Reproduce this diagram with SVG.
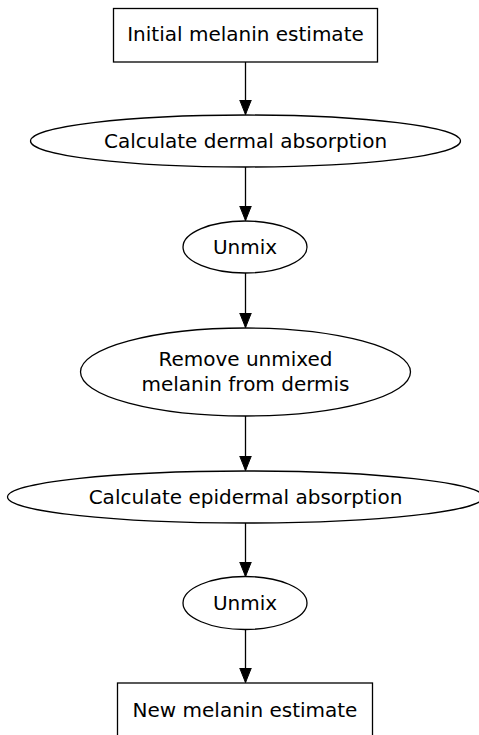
<svg xmlns="http://www.w3.org/2000/svg" width="479" height="735" viewBox="0 0 479 735">
<defs>
<style>
.n{fill:#fff;stroke:#000;stroke-width:1.3}
.t{font-family:"DejaVu Sans",sans-serif;font-size:20px;text-anchor:middle;fill:#000}
.e{stroke:#000;stroke-width:1.3;fill:none}
</style>
<marker id="ah" markerUnits="userSpaceOnUse" markerWidth="16" markerHeight="14" refX="15" refY="6.5" orient="auto">
<path d="M0,0.5 L15,6.5 L0,12.5 Z" fill="#000" stroke="#000" stroke-width="1"/>
</marker>
</defs>
<rect width="479" height="735" fill="#fff"/>
<g id="edges">
<line class="e" x1="245.5" y1="62" x2="245.5" y2="114.5" marker-end="url(#ah)"/>
<line class="e" x1="245.5" y1="167" x2="245.5" y2="220.5" marker-end="url(#ah)"/>
<line class="e" x1="245.5" y1="273" x2="245.5" y2="327.5" marker-end="url(#ah)"/>
<line class="e" x1="245.5" y1="416" x2="245.5" y2="470.5" marker-end="url(#ah)"/>
<line class="e" x1="245.5" y1="523" x2="245.5" y2="576.5" marker-end="url(#ah)"/>
<line class="e" x1="245.5" y1="630" x2="245.5" y2="682.5" marker-end="url(#ah)"/>
</g>
<g id="initial">
<rect class="n" x="113.5" y="8.5" width="264" height="53.5"/>
<text class="t" x="245.5" y="41">Initial melanin estimate</text>
</g>
<g id="dermal">
<ellipse class="n" cx="245.5" cy="141" rx="215" ry="26"/>
<text class="t" x="245.5" y="148">Calculate dermal absorption</text>
</g>
<g id="unmix1">
<ellipse class="n" cx="245" cy="247" rx="62" ry="26"/>
<text class="t" x="245" y="254">Unmix</text>
</g>
<g id="remove">
<ellipse class="n" cx="245.5" cy="372" rx="165" ry="44"/>
<text class="t" x="245.5" y="366">Remove unmixed</text>
<text class="t" x="245.5" y="391">melanin from dermis</text>
</g>
<g id="epidermal">
<ellipse class="n" cx="245.5" cy="497" rx="238" ry="26"/>
<text class="t" x="245.5" y="504">Calculate epidermal absorption</text>
</g>
<g id="unmix2">
<ellipse class="n" cx="245" cy="603" rx="62" ry="26.5"/>
<text class="t" x="245" y="610">Unmix</text>
</g>
<g id="new">
<rect class="n" x="117.5" y="683" width="255" height="56"/>
<text class="t" x="245" y="716.5">New melanin estimate</text>
</g>
</svg>
